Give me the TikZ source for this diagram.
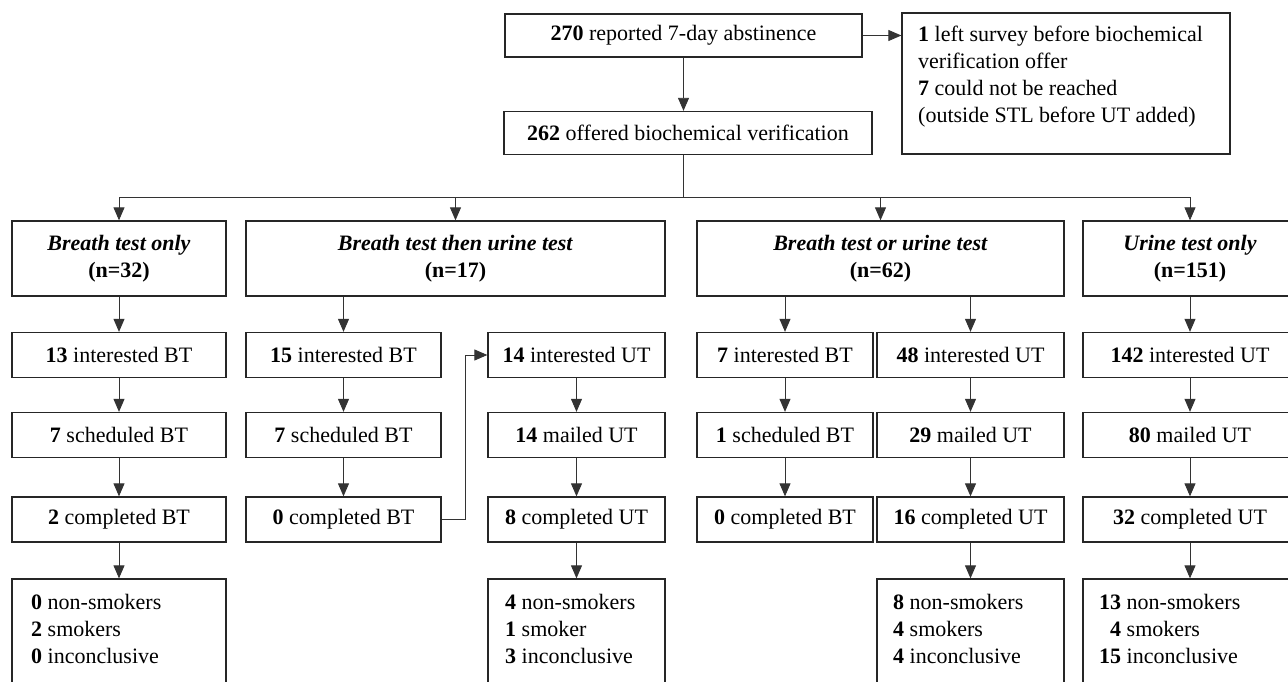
\documentclass[tikz,border=0pt]{standalone}
\usepackage{fontspec}
\setmainfont{Liberation Serif}
\usetikzlibrary{arrows.meta}

\begin{document}
\begin{tikzpicture}[x=1pt,y=-1pt,
        font=\fontsize{22}{27}\selectfont,
        box/.style={draw=black!85, line width=1.3pt, inner sep=0pt, align=center},
        stage/.style={box, minimum height=45},
        arm/.style={box, minimum height=75},
        note/.style={anchor=north west, align=left, inner sep=0pt},
        link/.style={draw=black!80, line width=0.9pt},
        arr/.style={link, -{Triangle[length=13pt,width=11pt]}}]
        % Frame
        \clip (0,0) rectangle (1288,682);

        % Top boxes
        \node[box, minimum width=357, minimum height=43] (rep) at (683.5,35.5) {\textbf{270} reported 7-day abstinence};
        \node[box, minimum width=368, minimum height=43] (off) at (688,133) {\textbf{262} offered biochemical verification};
        \node[box, minimum width=328, minimum height=141] (excl) at (1066,83.5) {};
        \node[note] (excltxt) at (918,26) {\textbf{1} left survey before biochemical\\verification offer\\\textbf{7} could not be reached\\(outside STL before UT added)};

        % Arms
        \node[arm, minimum width=214] (bt) at (119,258.5) {\textbf{\textit{Breath test only}}\\\textbf{(n=32)}};
        \node[arm, minimum width=419] (btt) at (455.5,258.5) {\textbf{\textit{Breath test then urine test}}\\\textbf{(n=17)}};
        \node[arm, minimum width=367] (bor) at (880.5,258.5) {\textbf{\textit{Breath test or urine test}}\\\textbf{(n=62)}};
        \node[arm, minimum width=214] (ut) at (1190,258.5) {\textbf{\textit{Urine test only}}\\\textbf{(n=151)}};

        % Breath test only
        \node[stage, minimum width=214] (bt-int) at (119,355) {\textbf{13} interested BT};
        \node[stage, minimum width=214] (bt-sch) at (119,435) {\textbf{7} scheduled BT};
        \node[stage, minimum width=214] (bt-cmp) at (119,519.5) {\textbf{2} completed BT};

        % Breath test then urine test
        \node[stage, minimum width=195] (btt-int) at (343.5,355) {\textbf{15} interested BT};
        \node[stage, minimum width=195] (btt-sch) at (343.5,435) {\textbf{7} scheduled BT};
        \node[stage, minimum width=195] (btt-cmp) at (343.5,519.5) {\textbf{0} completed BT};
        \node[stage, minimum width=177] (bttu-int) at (576.5,355) {\textbf{14} interested UT};
        \node[stage, minimum width=177] (bttu-mail) at (576.5,435) {\textbf{14} mailed UT};
        \node[stage, minimum width=177] (bttu-cmp) at (576.5,519.5) {\textbf{8} completed UT};

        % Breath test or urine test
        \node[stage, minimum width=176] (bor-int) at (785,355) {\textbf{7} interested BT};
        \node[stage, minimum width=176] (bor-sch) at (785,435) {\textbf{1} scheduled BT};
        \node[stage, minimum width=176] (bor-cmp) at (785,519.5) {\textbf{0} completed BT};
        \node[stage, minimum width=187] (boru-int) at (970.5,355) {\textbf{48} interested UT};
        \node[stage, minimum width=187] (boru-mail) at (970.5,435) {\textbf{29} mailed UT};
        \node[stage, minimum width=187] (boru-cmp) at (970.5,519.5) {\textbf{16} completed UT};

        % Urine test only
        \node[stage, minimum width=214] (ut-int) at (1190,355) {\textbf{142} interested UT};
        \node[stage, minimum width=214] (ut-mail) at (1190,435) {\textbf{80} mailed UT};
        \node[stage, minimum width=214] (ut-cmp) at (1190,519.5) {\textbf{32} completed UT};

        % Results
        \node[box, minimum width=214, minimum height=130] (bt-res) at (119,644) {};
        \node[box, minimum width=177, minimum height=130] (bttu-res) at (576.5,644) {};
        \node[box, minimum width=187, minimum height=130] (boru-res) at (970.5,644) {};
        \node[box, minimum width=214, minimum height=130] (ut-res) at (1190,644) {};
        \node[note] (bt-restxt) at (31,594) {\textbf{0} non-smokers\\\textbf{2} smokers\\\textbf{0} inconclusive};
        \node[note] (bttu-restxt) at (505,594) {\textbf{4} non-smokers\\\textbf{1} smoker\\\textbf{3} inconclusive};
        \node[note] (boru-restxt) at (893,594) {\textbf{8} non-smokers\\\textbf{4} smokers\\\textbf{4} inconclusive};
        \node[note] (ut-restxt) at (1099,594) {\textbf{13} non-smokers\\\phantom{1}\textbf{4} smokers\\\textbf{15} inconclusive};

        % Connectors at the top
        \draw[arr] (rep.east) -- (rep.east -| excl.west);
        \draw[arr] (rep.south) -- (rep.south |- off.north);
        \coordinate (split) at (683.5,197);
        \draw[link] (rep.south |- off.south) -- (split);
        \foreach \a in {bt,btt,bor,ut}
            \draw[arr] (split) -| (\a.north);

        % Connectors down the columns
        \foreach \u/\v in {bt/bt-int, bt-int/bt-sch, bt-sch/bt-cmp, bt-cmp/bt-res,
                btt/btt-int, btt-int/btt-sch, btt-sch/btt-cmp,
                bttu-int/bttu-mail, bttu-mail/bttu-cmp, bttu-cmp/bttu-res,
                bor/bor-int, bor-int/bor-sch, bor-sch/bor-cmp,
                bor/boru-int, boru-int/boru-mail, boru-mail/boru-cmp, boru-cmp/boru-res,
                ut/ut-int, ut-int/ut-mail, ut-mail/ut-cmp, ut-cmp/ut-res}
            \draw[arr] (\v.north |- \u.south) -- (\v.north);

        % Switch from breath test to urine test
        \draw[arr] (btt-cmp.east) -- ++(24,0) |- (bttu-int.west);
    \end{tikzpicture}
\end{document}
